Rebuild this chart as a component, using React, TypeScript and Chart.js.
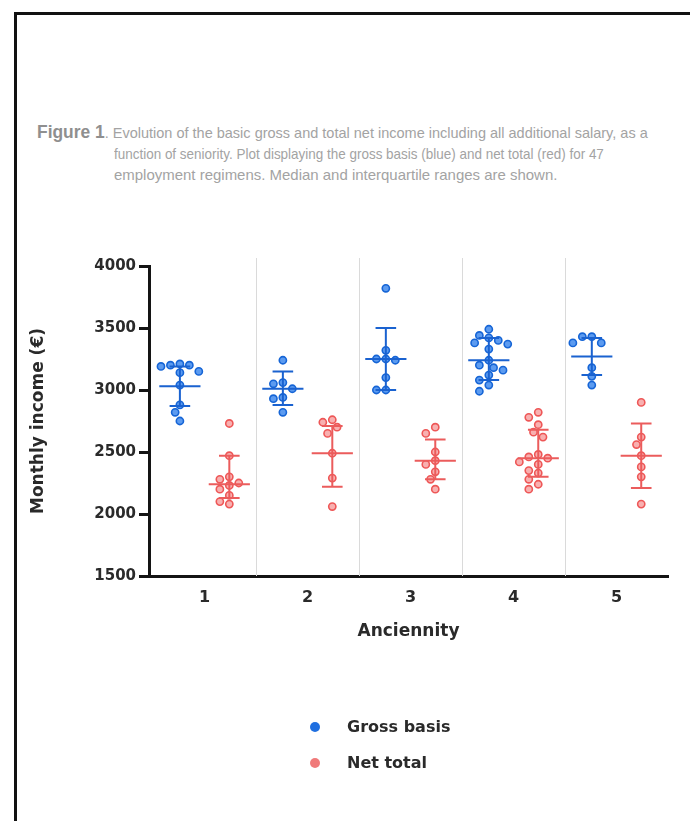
import React, { useEffect, useLayoutEffect, useRef, useState } from 'react';
import { Chart, registerables } from 'chart.js';

Chart.register(...registerables);

// ---------- Data ----------
const CATEGORIES = ['1', '2', '3', '4', '5'];

const GROSS_1 = [3210, 3200, 3200, 3190, 3150, 3140, 3040, 2880, 2820, 2750];
const GROSS_2 = [3240, 3060, 3050, 3010, 2940, 2930, 2820];
const GROSS_3 = [3820, 3320, 3250, 3250, 3240, 3100, 3000, 3000];
const GROSS_4 = [3490, 3440, 3420, 3400, 3380, 3370, 3330, 3240, 3200, 3180, 3160, 3120, 3080, 3040, 2990];
const GROSS_5 = [3430, 3430, 3380, 3380, 3180, 3110, 3040];

const NET_1 = [2730, 2470, 2300, 2280, 2250, 2230, 2200, 2150, 2100, 2080];
const NET_2 = [2760, 2740, 2700, 2650, 2490, 2290, 2060];
const NET_3 = [2700, 2650, 2500, 2430, 2400, 2340, 2280, 2200];
const NET_4 = [2820, 2780, 2720, 2660, 2620, 2480, 2460, 2450, 2420, 2400, 2350, 2330, 2280, 2240, 2200];
const NET_5 = [2900, 2620, 2560, 2470, 2380, 2300, 2080];

const GROSS_MEDIAN = [3030, 3010, 3250, 3240, 3270];
const GROSS_Q1 = [2870, 2880, 3000, 3080, 3120];
const GROSS_Q3 = [3190, 3150, 3500, 3420, 3420];

const NET_MEDIAN = [2240, 2490, 2430, 2450, 2470];
const NET_Q1 = [2130, 2220, 2280, 2300, 2210];
const NET_Q3 = [2470, 2710, 2600, 2680, 2730];

const Y_TICKS = [1500, 2000, 2500, 3000, 3500, 4000];

const GROSS_GROUPS = [GROSS_1, GROSS_2, GROSS_3, GROSS_4, GROSS_5];
const NET_GROUPS = [NET_1, NET_2, NET_3, NET_4, NET_5];

const CAPTION_LEAD = 'Figure 1';
const CAPTION_LINES = [
  '. Evolution of the basic gross and total net income including all additional salary, as a',
  'function of seniority. Plot displaying the gross basis (blue) and net total (red) for 47',
  'employment regimens. Median and interquartile ranges are shown.',
];

// ---------- Styles ----------
const BLUE_BORDER = '#1665d6';
const BLUE_FILL = '#5c9bf0';
const BLUE_LINE = '#1a62d0';
const RED_BORDER = '#ee5757';
const RED_FILL = '#f8b0b0';
const RED_LINE = '#eb5c5c';
const AXIS_COLOR = '#141414';
const TEXT_COLOR = '#2a2a2a';
const FONT = 'DejaVu Sans';

const GROSS_OFFSET = -0.24;
const NET_OFFSET = 0.24;

// beeswarm layout helper (approximate pixel factors for the plot)
const X_PX_PER_UNIT = 103;
const Y_PX_PER_UNIT = 310 / 2500;
const DOT_DIAM = 8.6;

function swarm(values: number[]): number[] {
  const order = values.map((_, i) => i).sort((a, b) => values[b] - values[a]);
  const placed: { x: number; y: number }[] = [];
  const out = new Array(values.length).fill(0);
  const step = DOT_DIAM * 0.55;
  for (const i of order) {
    const y = values[i] * Y_PX_PER_UNIT;
    const cands = [0];
    for (let m = 1; m < 20; m++) cands.push(-m * step, m * step);
    for (const x of cands) {
      const ok = placed.every((p) => (p.x - x) ** 2 + (p.y - y) ** 2 >= DOT_DIAM * DOT_DIAM * 0.98);
      if (ok) {
        placed.push({ x, y });
        out[i] = x / X_PX_PER_UNIT;
        break;
      }
    }
  }
  return out;
}

function buildPoints(groups: number[][], offset: number) {
  const pts: { x: number; y: number }[] = [];
  groups.forEach((vals, g) => {
    const off = swarm(vals);
    vals.forEach((v, j) => pts.push({ x: g + 1 + offset + off[j], y: v }));
  });
  return pts;
}

const separatorPlugin = {
  id: 'separators',
  beforeDatasetsDraw(chart: any) {
    const { ctx, chartArea, scales } = chart;
    const x = scales.x;
    ctx.save();
    ctx.strokeStyle = '#dadada';
    ctx.lineWidth = 1;
    for (let i = 1; i < CATEGORIES.length; i++) {
      const px = Math.round(x.getPixelForValue(i + 0.5)) + 0.5;
      ctx.beginPath();
      ctx.moveTo(px, chartArea.top - 8);
      ctx.lineTo(px, chartArea.bottom);
      ctx.stroke();
    }
    ctx.restore();
  },
};

const errorBarPlugin = {
  id: 'errorbars',
  afterDatasetsDraw(chart: any) {
    const { ctx, scales } = chart;
    const x = scales.x;
    const y = scales.y;
    const unit = x.getPixelForValue(1) - x.getPixelForValue(0);
    const draw = (med: number[], q1: number[], q3: number[], offset: number, color: string) => {
      med.forEach((m, i) => {
        const cx = x.getPixelForValue(i + 1 + offset);
        const yM = y.getPixelForValue(m);
        const y1 = y.getPixelForValue(q1[i]);
        const y3 = y.getPixelForValue(q3[i]);
        const mh = unit * 0.2;
        const ch = unit * 0.1;
        ctx.save();
        ctx.strokeStyle = color;
        ctx.lineWidth = 2;
        ctx.beginPath();
        ctx.moveTo(cx, y1);
        ctx.lineTo(cx, y3);
        ctx.moveTo(cx - ch, y1);
        ctx.lineTo(cx + ch, y1);
        ctx.moveTo(cx - ch, y3);
        ctx.lineTo(cx + ch, y3);
        ctx.moveTo(cx - mh, yM);
        ctx.lineTo(cx + mh, yM);
        ctx.stroke();
        ctx.restore();
      });
    };
    draw(GROSS_MEDIAN, GROSS_Q1, GROSS_Q3, GROSS_OFFSET, BLUE_LINE);
    draw(NET_MEDIAN, NET_Q1, NET_Q3, NET_OFFSET, RED_LINE);
  },
};

// visual widths of the caption lines in the reference
const CAPTION_WIDTHS = [611, 490, 443];

export default function App() {
  const canvasRef = useRef<HTMLCanvasElement | null>(null);
  const lineRefs = useRef<(HTMLDivElement | null)[]>([]);
  const [capScales, setCapScales] = useState<number[]>([1, 1, 1]);

  useLayoutEffect(() => {
    const s = CAPTION_WIDTHS.map((target, i) => {
      const el = lineRefs.current[i];
      const w = el ? el.scrollWidth : 0;
      return w > 0 ? target / w : 1;
    });
    setCapScales(s);
  }, []);

  useEffect(() => {
    const canvas = canvasRef.current;
    if (!canvas) return;
    const chart = new Chart(canvas, {
      type: 'scatter',
      data: {
        datasets: [
          {
            label: 'Gross basis',
            data: buildPoints(GROSS_GROUPS, GROSS_OFFSET),
            backgroundColor: BLUE_FILL,
            borderColor: BLUE_BORDER,
            borderWidth: 1.6,
            pointRadius: 3.6,
            clip: false,
          },
          {
            label: 'Net total',
            data: buildPoints(NET_GROUPS, NET_OFFSET),
            backgroundColor: RED_FILL,
            borderColor: RED_BORDER,
            borderWidth: 1.6,
            pointRadius: 3.6,
            clip: false,
          },
        ],
      },
      options: {
        responsive: false,
        animation: false,
        layout: { padding: { left: 24, right: 22, top: 266, bottom: 175 } },
        plugins: { legend: { display: false }, tooltip: { enabled: false } },
        scales: {
          x: {
            type: 'linear',
            min: 0.46,
            max: CATEGORIES.length + 0.5,
            afterBuildTicks: (s: any) => {
              s.ticks = CATEGORIES.map((_, i) => ({ value: i + 1 }));
            },
            afterFit: (s: any) => {
              s.height = 70;
            },
            ticks: {
              autoSkip: false,
              maxRotation: 0,
              padding: 12,
              color: TEXT_COLOR,
              font: { family: FONT, weight: 'bold', size: 16 },
              callback: (_v: any, i: number) => CATEGORIES[i],
            },
            grid: { display: false, drawTicks: false },
            border: { display: true, width: 3, color: AXIS_COLOR },
            title: {
              display: true,
              text: 'Anciennity',
              color: TEXT_COLOR,
              font: { family: FONT, weight: 'bold', size: 17 },
            },
          },
          y: {
            min: Y_TICKS[0],
            max: Y_TICKS[Y_TICKS.length - 1],
            afterBuildTicks: (s: any) => {
              s.ticks = Y_TICKS.map((v) => ({ value: v }));
            },
            afterFit: (s: any) => {
              s.width = 125;
            },
            ticks: {
              padding: 3,
              color: TEXT_COLOR,
              font: { family: FONT, weight: 'bold', size: 15 },
              callback: (v: any) => String(v),
            },
            grid: {
              drawOnChartArea: false,
              drawTicks: true,
              tickLength: 10,
              lineWidth: 3,
              color: AXIS_COLOR,
              tickColor: AXIS_COLOR,
            },
            border: { display: true, width: 3, color: AXIS_COLOR },
            title: {
              display: true,
              text: 'Monthly income (€)',
              color: TEXT_COLOR,
              font: { family: FONT, weight: 'bold', size: 17 },
              padding: { top: 4, bottom: 0 },
            },
          },
        },
      },
      plugins: [separatorPlugin, errorBarPlugin],
    } as any);
    return () => chart.destroy();
  }, []);

  const capStyle = (i: number): React.CSSProperties => ({
    position: 'absolute',
    whiteSpace: 'nowrap',
    fontFamily: '"Liberation Sans", Arial, sans-serif',
    fontSize: 15,
    color: '#a3a3a3',
    lineHeight: '21px',
    transform: `scaleX(${capScales[i]})`,
    transformOrigin: 'left center',
  });

  return (
    <div
      style={{
        position: 'fixed',
        left: 0,
        top: 0,
        width: 690,
        height: 821,
        overflow: 'hidden',
        background: '#fff',
      }}
    >
      <div
        style={{
          position: 'absolute',
          left: 14,
          top: 12,
          width: 800,
          height: 900,
          borderLeft: '3px solid #111',
          borderTop: '3px solid #111',
        }}
      />
      <div ref={(el) => { lineRefs.current[0] = el; }} style={{ ...capStyle(0), left: 37, top: 122 }}>
        <span style={{ fontWeight: 'bold', fontSize: 18, color: '#8f8f8f' }}>{CAPTION_LEAD}</span>
        {CAPTION_LINES[0]}
      </div>
      <div ref={(el) => { lineRefs.current[1] = el; }} style={{ ...capStyle(1), left: 114, top: 143 }}>
        {CAPTION_LINES[1]}
      </div>
      <div ref={(el) => { lineRefs.current[2] = el; }} style={{ ...capStyle(2), left: 114, top: 164 }}>
        {CAPTION_LINES[2]}
      </div>
      <canvas
        ref={canvasRef}
        width={690}
        height={821}
        style={{ position: 'absolute', left: 0, top: 0, width: 690, height: 821 }}
      />
      {[
        { label: 'Gross basis', color: '#1f6fe0', top: 727 },
        { label: 'Net total', color: '#f07a7a', top: 763 },
      ].map((it) => (
        <React.Fragment key={it.label}>
          <div
            style={{
              position: 'absolute',
              left: 310,
              top: it.top - 5,
              width: 10,
              height: 10,
              borderRadius: '50%',
              background: it.color,
            }}
          />
          <div
            style={{
              position: 'absolute',
              left: 347,
              top: it.top - 11,
              fontFamily: FONT,
              fontWeight: 'bold',
              fontSize: 16,
              lineHeight: '22px',
              color: TEXT_COLOR,
              whiteSpace: 'nowrap',
            }}
          >
            {it.label}
          </div>
        </React.Fragment>
      ))}
    </div>
  );
}
